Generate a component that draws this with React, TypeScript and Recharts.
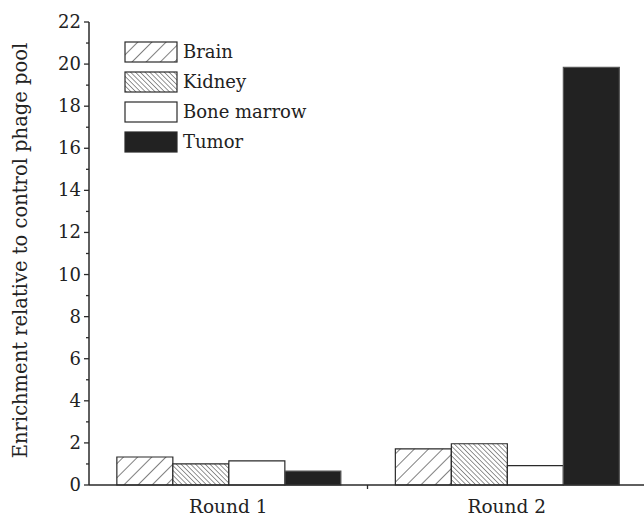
import React from 'react';
import { BarChart, Bar, XAxis, YAxis, Legend } from 'recharts';

const categories = ['Round 1', 'Round 2'];
const brain = [1.33, 1.72];
const kidney = [1.0, 1.96];
const boneMarrow = [1.15, 0.92];
const tumor = [0.66, 19.85];
const yTicks = [0, 1, 2, 3, 4, 5, 6, 7, 8, 9, 10, 11, 12, 13, 14, 15, 16, 17, 18, 19, 20, 21, 22];
const seriesNames = ['Brain', 'Kidney', 'Bone marrow', 'Tumor'];
const yAxisTitle = 'Enrichment relative to control phage pool';

const data = categories.map((c, i) => ({
  name: c,
  brain: brain[i],
  kidney: kidney[i],
  bone: boneMarrow[i],
  tumor: tumor[i],
}));

const FONT = '"DejaVu Serif", serif';
const INK = '#2a2a2a';

const Patterns = ({ prefix }: { prefix: string }) => (
  <defs>
    <pattern id={`${prefix}-brain`} patternUnits="userSpaceOnUse" width="10" height="10" patternTransform="rotate(45)">
      <rect width="10" height="10" fill="#fff" />
      <line x1="0" y1="0" x2="0" y2="10" stroke={INK} strokeWidth="1.2" />
    </pattern>
    <pattern id={`${prefix}-kidney`} patternUnits="userSpaceOnUse" width="3.4" height="3.4" patternTransform="rotate(-45)">
      <rect width="3.4" height="3.4" fill="#fff" />
      <line x1="0" y1="0" x2="0" y2="3.4" stroke={INK} strokeWidth="1" />
    </pattern>
  </defs>
);

const fillFor = (prefix: string, idx: number) =>
  idx === 0 ? `url(#${prefix}-brain)` : idx === 1 ? `url(#${prefix}-kidney)` : idx === 2 ? '#ffffff' : '#222222';

const LegendContent = () => (
  <div style={{ fontFamily: FONT, fontSize: 18, color: '#222' }}>
    {seriesNames.map((n, i) => (
      <div key={n} style={{ display: 'flex', alignItems: 'center', height: 30 }}>
        <svg width={54} height={22} style={{ display: 'block' }}>
          <Patterns prefix={`lg${i}`} />
          <rect x={1} y={1} width={52} height={20} fill={fillFor(`lg${i}`, i)} stroke={INK} strokeWidth={1.2} />
        </svg>
        <span style={{ marginLeft: 5, lineHeight: '20px' }}>{n}</span>
      </div>
    ))}
  </div>
);

const YTick = (props: any) => {
  const { x, y, payload } = props;
  const v = payload.value;
  const major = v % 2 === 0;
  return (
    <g>
      <line x1={x} x2={x - (major ? 5 : 3)} y1={y} y2={y} stroke={INK} strokeWidth={1.3} />
      {major && (
        <text x={x - 8} y={y} dy={6} textAnchor="end" fontFamily={FONT} fontSize={18} fill="#222">
          {v}
        </text>
      )}
    </g>
  );
};

const XTick = (props: any) => {
  const { x, y, payload, index, width, visibleTicksCount } = props;
  const band = width / (visibleTicksCount || 2);
  return (
    <g>
      {index === 0 && (
        <line x1={x + band / 2} x2={x + band / 2} y1={y} y2={y + 4} stroke={INK} strokeWidth={1.3} />
      )}
      <text x={x} y={y + 28} textAnchor="middle" fontFamily={FONT} fontSize={18.5} fill="#222">
        {payload.value}
      </text>
    </g>
  );
};

const YTitle = (props: any) => {
  const vb = props.viewBox || {};
  const cy = (vb.y ?? 22) + (vb.height ?? 463) / 2 - 3;
  const cx = 20;
  return (
    <text
      x={cx}
      y={cy}
      transform={`rotate(-90, ${cx}, ${cy})`}
      textAnchor="middle"
      dominantBaseline="central"
      fontFamily={FONT}
      fontSize={19.5}
      fill="#222"
    >
      {yAxisTitle}
    </text>
  );
};

export default function App() {
  return (
    <div style={{ position: 'absolute', left: 0, top: 0, width: 644, height: 521, background: '#fff' }}>
      <BarChart
        width={644}
        height={521}
        data={data}
        margin={{ top: 22, right: -2, bottom: 0, left: 0 }}
        barCategoryGap="10%"
        barGap={0}
      >
        <Patterns prefix="ch" />
        <XAxis
          dataKey="name"
          height={36}
          tickLine={false}
          tickSize={0}
          tickMargin={0}
          tick={<XTick />}
          axisLine={{ stroke: INK, strokeWidth: 1.5 }}
        />
        <YAxis
          width={89}
          domain={[0, 22]}
          ticks={yTicks}
          interval={0}
          tickLine={false}
          tickSize={0}
          tickMargin={0}
          tick={<YTick />}
          axisLine={{ stroke: INK, strokeWidth: 1.5 }}
          label={{ content: <YTitle /> } as any}
        />
        <Legend
          verticalAlign="middle"
          align="center"
          layout="vertical"
          content={<LegendContent />}
          wrapperStyle={{ left: 124, top: 37, width: 'auto' }}
        />
        <Bar dataKey="brain" name="Brain" fill="url(#ch-brain)" stroke={INK} strokeWidth={1.2} isAnimationActive={false} />
        <Bar dataKey="kidney" name="Kidney" fill="url(#ch-kidney)" stroke={INK} strokeWidth={1.2} isAnimationActive={false} />
        <Bar dataKey="bone" name="Bone marrow" fill="#ffffff" stroke={INK} strokeWidth={1.2} isAnimationActive={false} />
        <Bar dataKey="tumor" name="Tumor" fill="#222222" stroke="#555" strokeWidth={1.2} isAnimationActive={false} />
      </BarChart>
    </div>
  );
}
